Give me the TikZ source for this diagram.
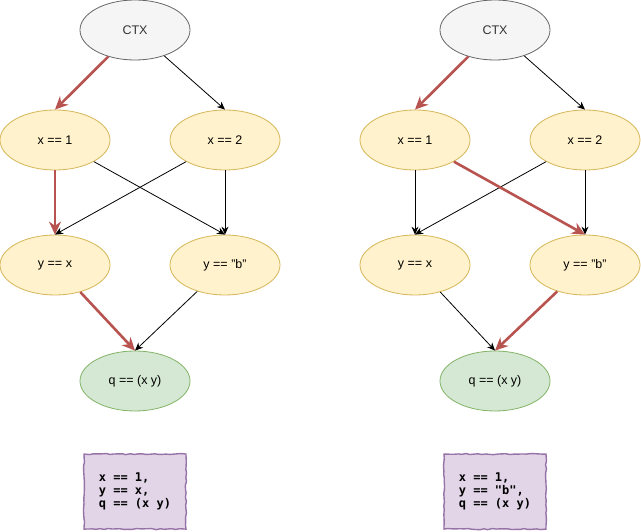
\documentclass[tikz,border=0pt]{standalone}
\usepackage{fontspec}
\setmainfont{Liberation Sans}
\newfontfamily\answerfont{DejaVu Sans Mono}
\usetikzlibrary{arrows.meta,shapes.geometric,positioning,%
	decorations.pathmorphing}

\definecolor{ctxfill}{HTML}{F5F5F5}
\definecolor{ctxline}{HTML}{666666}
\definecolor{ctxtext}{HTML}{333333}
\definecolor{guardfill}{HTML}{FFF2CC}
\definecolor{guardline}{HTML}{D6B656}
\definecolor{goalfill}{HTML}{D5E8D4}
\definecolor{goalline}{HTML}{82B366}
\definecolor{answerfill}{HTML}{E1D5E7}
\definecolor{answerline}{HTML}{9673A6}
\definecolor{pickred}{HTML}{B85450}

\begin{document}
\begin{tikzpicture}[x=1pt,y=-1pt,
	state/.style={ellipse,draw,line width=0.8pt,minimum width=110pt,minimum height=60pt,inner sep=0pt,font=\fontsize{12.5}{14}\selectfont},
	ctxnode/.style={state,fill=ctxfill,draw=ctxline,text=ctxtext},
	guard/.style={state,fill=guardfill,draw=guardline},
	goal/.style={state,fill=goalfill,draw=goalline},
	link/.style={-{Stealth[length=8pt,width=7pt]},line width=0.8pt},
	picked/.style={-{Stealth[length=13pt,width=12pt]},draw=pickred,line width=2.6pt},
	answer/.style={draw=answerline,fill=answerfill,line width=1.4pt,minimum width=102pt,minimum height=75pt,align=left,
		decorate,decoration={random steps,segment length=4pt,amplitude=0.6pt},font=\answerfont\bfseries\fontsize{12}{13}\selectfont}]
	
	\useasboundingbox (0,0) rectangle (641,532);
	
	% left graph
	\node[ctxnode] (ctxL) at (135,30) {CTX};
	\node[guard] (x1L) at (55,140) {x == 1};
	\node[guard] (x2L) at (225,140) {x == 2};
	\node[guard] (yxL) at (55,265) {y == x};
	\node[guard] (ybL) at (225,265) {y == "b"};
	\node[goal] (qL) at (135,381) {q == (x y)};
	\node[answer,below=42pt of qL] (ansL) {x == 1,\\y == x,\\q == (x y)};
	
	\draw[link] (ctxL) -- (x2L.north);
	\draw[link] (x1L) -- (ybL.north);
	\draw[link] (x2L) -- (yxL.north);
	\draw[link] (x2L) -- (ybL.north);
	\draw[link] (ybL) -- (qL.north);
	
	\draw[picked] (ctxL) -- (x1L.north);
	\draw[picked] (x1L) -- (yxL.north);
	\draw[picked] (yxL) -- (qL.north);
	
	% right graph
	\node[ctxnode] (ctxR) at (495,30) {CTX};
	\node[guard] (x1R) at (415,140) {x == 1};
	\node[guard] (x2R) at (585,140) {x == 2};
	\node[guard] (yxR) at (415,265) {y == x};
	\node[guard] (ybR) at (585,265) {y == "b"};
	\node[goal] (qR) at (495,381) {q == (x y)};
	\node[answer,below=42pt of qR] (ansR) {x == 1,\\y == "b",\\q == (x y)};
	
	\draw[link] (ctxR) -- (x2R.north);
	\draw[link] (x1R) -- (yxR.north);
	\draw[link] (x2R) -- (yxR.north);
	\draw[link] (x2R) -- (ybR.north);
	\draw[link] (yxR) -- (qR.north);
	
	\draw[picked] (ctxR) -- (x1R.north);
	\draw[picked] (x1R) -- (ybR.north);
	\draw[picked] (ybR) -- (qR.north);
	
\end{tikzpicture}
\end{document}
